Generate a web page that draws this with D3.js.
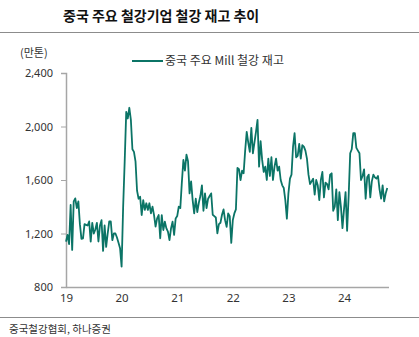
<!DOCTYPE html>
<html><head><meta charset="utf-8">
<script src="https://cdn.jsdelivr.net/npm/d3@7"></script>
<style>
html,body{margin:0;padding:0;background:#fff;}
svg{display:block;font-family:"Noto Sans CJK KR","Noto Sans",sans-serif;}
</style></head>
<body><svg id="c" width="419" height="337"></svg>
<script>
// ---- data (만톤), roughly 10-day observations, 36 per year ----
const years = [2019, 2020, 2021, 2022, 2023, 2024];
const v2019 = [1139,1190,1120,1413,1077,1440,1463,1390,1440,1270,1160,1164,1270,1265,1260,1290,1139,1280,1200,1230,1280,1140,1260,1300,1070,1260,1100,1200,1290,1290,1150,1200,1200,1170,1130,1090];
const v2020 = [952,1400,1740,2110,2060,2140,2050,1830,1810,1740,1520,1460,1475,1338,1450,1376,1426,1376,1426,1351,1401,1338,1251,1313,1338,1164,1338,1226,1288,1238,1214,1151,1238,1288,1189,1313];
const v2021 = [1330,1400,1390,1580,1750,1670,1790,1740,1500,1590,1450,1350,1460,1360,1430,1480,1560,1370,1500,1390,1460,1480,1500,1340,1330,1320,1201,1270,1280,1340,1380,1300,1250,1350,1330,1130];
const v2022 = [1300,1350,1380,1690,1680,1600,1670,1650,1820,1960,1880,1810,1990,1800,1880,1960,2050,1700,1890,1750,1660,1700,1600,1760,1630,1770,1600,1700,1760,1670,1700,1600,1560,1540,1450,1310];
const v2023 = [1500,1610,1640,1850,1950,1770,1780,1870,1760,1860,1850,1820,1760,1640,1570,1590,1610,1490,1600,1560,1450,1600,1660,1470,1580,1570,1530,1640,1650,1370,1400,1530,1300,1510,1400,1240];
const v2024 = [1380,1510,1220,1480,1800,1830,1950,1950,1840,1820,1800,1600,1630,1680,1460,1620,1640,1470,1590,1640,1620,1610,1630,1530,1460,1560,1440,1500,1540];
const seriesByYear = [v2019, v2020, v2021, v2022, v2023, v2024];
const yTicks = [800, 1200, 1600, 2000, 2400];
const xTickLabels = ["19", "20", "21", "22", "23", "24"];
const title = "중국 주요 철강기업 철강 재고 추이";
const unitLabel = "(만톤)";
const seriesName = "중국 주요 Mill 철강 재고";
const source = "중국철강협회, 하나증권";

const data = [];
seriesByYear.forEach((arr, yi) => arr.forEach((v, k) => data.push({t: years[yi] + k / 36, v})));

const svg = d3.select("#c");
const color = "#0b7466";
const x = d3.scaleLinear().domain([2019, 2024.8]).range([66, 388.5]);
const y = d3.scaleLinear().domain([800, 2400]).range([287, 73]);

// title & rules
svg.append("text").attr("x", 63).attr("y", 21).attr("font-size", 14).attr("font-weight", "bold")
  .attr("fill", "#111").text(title);
svg.append("line").attr("x1", 0).attr("x2", 419).attr("y1", 32.5).attr("y2", 32.5)
  .attr("stroke", "#8c8c8c").attr("stroke-width", 1);
svg.append("line").attr("x1", 0).attr("x2", 419).attr("y1", 317.5).attr("y2", 317.5)
  .attr("stroke", "#8c8c8c").attr("stroke-width", 1);

// unit
svg.append("text").attr("x", 20).attr("y", 57).attr("font-size", 11).attr("fill", "#333").text(unitLabel);

// legend
svg.append("line").attr("x1", 132).attr("x2", 163).attr("y1", 61).attr("y2", 61)
  .attr("stroke", color).attr("stroke-width", 2);
svg.append("text").attr("x", 165).attr("y", 65).attr("font-size", 12).attr("fill", "#333").text(seriesName);

// axes
const yAxis = d3.axisLeft(y).tickValues(yTicks).tickFormat(d3.format(",")).tickSize(5).tickPadding(8);
const gy = svg.append("g").attr("transform", "translate(66,0)").call(yAxis);
gy.select(".domain").attr("stroke", "#a6a6a6").attr("stroke-width", 1.5);
gy.selectAll(".tick line").attr("stroke", "#a6a6a6");
gy.selectAll("text").attr("font-size", 11).attr("fill", "#333").attr("font-family", "'Noto Sans','Noto Sans CJK KR',sans-serif");

const xAxis = d3.axisBottom(x).tickValues(years).tickFormat((d, i) => xTickLabels[i]).tickSize(0).tickPadding(7);
const gx = svg.append("g").attr("transform", "translate(0,287)").call(xAxis);
gx.select(".domain").attr("stroke", "#a6a6a6").attr("stroke-width", 1.5);
gx.selectAll("text").attr("font-size", 11.5).attr("fill", "#333").attr("font-family", "'Noto Sans','Noto Sans CJK KR',sans-serif");

// line
svg.append("path").datum(data)
  .attr("d", d3.line().x(d => x(d.t)).y(d => y(d.v)))
  .attr("fill", "none").attr("stroke", color).attr("stroke-width", 1.8).attr("stroke-linejoin", "round");

// source
svg.append("text").attr("x", 9).attr("y", 333).attr("font-size", 10.5).attr("fill", "#333").text(source);
</script></body></html>
